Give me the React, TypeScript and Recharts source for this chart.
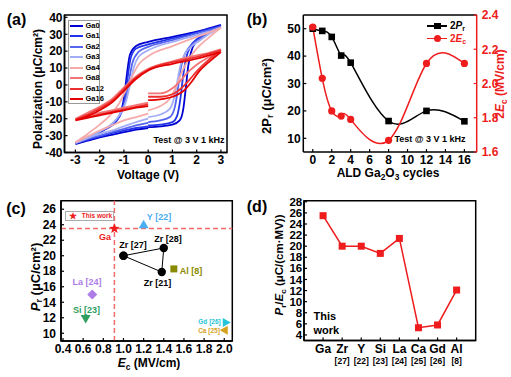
import React from 'react';
import { LineChart, Line, XAxis, YAxis, ComposedChart, ScatterChart, Scatter, ReferenceLine, ReferenceArea } from 'recharts';

const FONT = '"Liberation Sans", Arial, Helvetica, sans-serif';

// ---- (a) P-V loops: [rise 0 -> 3 V, fall 3 -> -3 V, return -3 -> 0 V], points are [V, P]
const loopNames = ['Ga0', 'Ga1', 'Ga2', 'Ga3', 'Ga4', 'Ga8', 'Ga12', 'Ga16'];
const loopColors = ['#0000d0', '#2233ea', '#5565f0', '#a3adf6', '#f6abab', '#f27474', '#ec3030', '#e40000'];

const ga0 = [
  [[0, -25], [0.5, -24.5], [1, -23.5], [1.3, -21], [1.45, -14], [1.55, -2], [1.65, 11], [1.78, 20], [2, 26], [2.5, 31.5], [3, 35.5]],
  [[3, 35.5], [2.5, 33.5], [2, 31.5], [1, 28.5], [0, 25.5], [-0.5, 23], [-0.75, 18], [-0.88, 6], [-0.98, -6], [-1.1, -15], [-1.3, -21], [-1.7, -25.5], [-2.2, -29.5], [-2.6, -32.5], [-3, -35]],
  [[-3, -35], [-2.5, -33], [-2, -31], [-1.5, -29.5], [-1, -28], [-0.5, -26.5], [0, -25.5]],
];
const ga1 = [
  [[0, -24], [0.5, -23.5], [1, -22], [1.2, -18], [1.33, -8], [1.43, 4], [1.55, 15], [1.75, 23], [2, 27], [2.5, 31.5], [3, 35]],
  [[3, 35], [2.5, 33], [2, 31], [1, 27.5], [0, 24], [-0.5, 21.5], [-0.72, 16], [-0.85, 4], [-0.95, -7], [-1.1, -16], [-1.35, -22], [-1.8, -26.5], [-2.3, -30], [-3, -34.5]],
  [[-3, -34.5], [-2.5, -32.5], [-2, -30.5], [-1.5, -28.5], [-1, -27], [-0.5, -25.5], [0, -24.5]],
];
const ga2 = [
  [[0, -22], [0.5, -21], [0.9, -19], [1.1, -13], [1.22, -3], [1.32, 8], [1.45, 16], [1.7, 22.5], [2, 26], [2.5, 30.5], [3, 34.5]],
  [[3, 34.5], [2.5, 32.5], [2, 30.5], [1, 26.5], [0, 22.5], [-0.4, 19.5], [-0.65, 13], [-0.8, 2], [-0.92, -8], [-1.1, -16], [-1.4, -22], [-1.9, -27], [-2.4, -30.5], [-3, -34.5]],
  [[-3, -34.5], [-2.5, -32], [-2, -30], [-1.5, -28], [-1, -26], [-0.5, -24], [0, -22.5]],
];
const ga3 = [
  [[0, -19], [0.5, -17.5], [0.9, -14], [1.08, -7], [1.2, 2], [1.32, 11], [1.5, 18], [1.8, 23], [2.2, 27], [2.6, 31], [3, 34]],
  [[3, 34], [2.5, 31.5], [2, 29.5], [1, 25.5], [0, 20.5], [-0.4, 16.5], [-0.6, 10], [-0.75, 0], [-0.9, -9], [-1.15, -17], [-1.5, -23], [-2, -27.5], [-2.5, -31], [-3, -34.5]],
  [[-3, -34.5], [-2.5, -31.5], [-2, -29], [-1.5, -27], [-1, -24.5], [-0.5, -22], [0, -20]],
];
const ga4 = [
  [[0, -15], [0.5, -12.5], [0.9, -8], [1.15, -1], [1.4, 8], [1.7, 16], [2, 21.5], [2.5, 28], [3, 34]],
  [[3, 34], [2.5, 31], [2, 28.5], [1, 23], [0, 17], [-0.4, 12], [-0.7, 4], [-0.95, -4], [-1.2, -11], [-1.6, -18.5], [-2, -23.5], [-2.5, -29], [-3, -34]],
  [[-3, -34], [-2.5, -30.5], [-2, -27], [-1.5, -24], [-1, -21], [-0.5, -19], [0, -17]],
];
const ga8 = [
  [[0, -5], [0.5, -5], [1, -2], [1.3, 2], [1.6, 7], [2, 12], [2.5, 16.5], [3, 21]],
  [[3, 21], [2.5, 19], [2, 17.5], [1, 14], [0, 9.5], [-0.5, 5], [-1, -1.5], [-1.5, -8.5], [-2, -13], [-2.5, -16.5], [-3, -20]],
  [[-3, -20], [-2.5, -18], [-2, -16.5], [-1.5, -15], [-1, -13.5], [-0.5, -12], [0, -10.5]],
];
const ga12 = [
  [[0, -7], [0.5, -7], [1, -5.5], [1.4, -1.5], [1.7, 3], [2, 8], [2.5, 15], [3, 20.5]],
  [[3, 20.5], [2.5, 18.5], [2, 16.5], [1, 13.5], [0, 9], [-0.5, 4.5], [-1, -2.5], [-1.5, -9.5], [-2, -14], [-2.5, -17.5], [-3, -20.5]],
  [[-3, -20.5], [-2.5, -19], [-2, -17.5], [-1.5, -16], [-1, -14.5], [-0.5, -13], [0, -11.5]],
];
const ga16 = [
  [[0, -9], [0.5, -8.5], [1, -7], [1.5, -3], [1.8, 2], [2.1, 8], [2.5, 13.5], [3, 19.5]],
  [[3, 19.5], [2.5, 17.5], [2, 15.5], [1, 12.5], [0, 8.5], [-0.5, 3.5], [-1, -3.5], [-1.5, -10.5], [-2, -15], [-2.5, -18.5], [-3, -21]],
  [[-3, -21], [-2.5, -19.5], [-2, -18], [-1.5, -16.5], [-1, -15], [-0.5, -13.5], [0, -12.5]],
];
const loops = [ga0, ga1, ga2, ga3, ga4, ga8, ga12, ga16];

// ---- (b) vs ALD cycles
const cycles = [0, 1, 2, 3, 4, 8, 12, 16];
const pr2 = [50, 49.2, 47, 40.2, 37.6, 16.3, 20, 16.2];
const ec2 = [2.33, 2.03, 1.84, 1.81, 1.79, 1.668, 2.117, 2.117];

// ---- (c) Pr vs Ec benchmark, [Ec, Pr]
const gaThisWork = [[0.91, 23.5]];
const yRef = [[1.2, 24]];
const zrRefs = [[1.0, 20], [1.4, 21], [1.38, 17.9], [1.0, 20]];
const alRef = [[1.5, 18.3]];
const laRef = [[0.69, 15]];
const siRef = [[0.625, 11.9]];
const gdRef = [[2.02, 11.4]];
const caRef = [[2.0, 10.4]];

// ---- (d) Pr/Ec ratio
const dopants = ['Ga', 'Zr', 'Y', 'Si', 'La', 'Ca', 'Gd', 'Al'];
const dopantRefs = ['', '[27]', '[22]', '[23]', '[24]', '[25]', '[26]', '[8]'];
const ratio = [25.5, 20, 20, 18.7, 21.4, 5.3, 5.8, 12.1];

const RED = '#ee1c1c';

function loopRows(branches: number[][][]) {
  const rows: { v: number; p: number | null }[] = [];
  branches.forEach((b) => {
    b.forEach(([v, p]) => rows.push({ v, p }));
    rows.push({ v: b[b.length - 1][0], p: null });
  });
  return rows;
}
const pts = (a: number[][]) => a.map(([x, y]) => ({ x, y }));

const bRows = cycles.map((c, i) => ({ c, pr: pr2[i], ec: ec2[i] }));
const dRows = dopants.map((d, i) => ({ i: i + 1, r: ratio[i] }));

const tick = { fill: '#000', fontSize: 12, fontWeight: 700, fontFamily: FONT };
const axLine = { stroke: '#000', strokeWidth: 1.5 };
const tLine = { stroke: '#000', strokeWidth: 1.2 };

function Txt({ x, y, size = 12, color = '#000', rotate = false, left = false, children }: any) {
  return (
    <div
      style={{
        position: 'absolute', left: x, top: y,
        transform: `translate(${left ? '0' : '-50%'},-50%)${rotate ? ' rotate(-90deg)' : ''}`,
        fontSize: size, fontWeight: 700, color, fontFamily: FONT, whiteSpace: 'nowrap', lineHeight: 1,
      }}
    >
      {children}
    </div>
  );
}
const Sub = ({ children }: any) => <sub style={{ fontSize: '0.7em', lineHeight: 0, verticalAlign: '-0.3em' }}>{children}</sub>;

const Box = ({ x, y, w, h, children }: any) => (
  <div style={{ position: 'absolute', left: x, top: y, width: w, height: h }}>{children}</div>
);

// marker shapes
const starPts = (cx: number, cy: number, ro: number, ri: number) => {
  const out: string[] = [];
  for (let k = 0; k < 10; k++) {
    const r = k % 2 === 0 ? ro : ri;
    const a = -Math.PI / 2 + (k * Math.PI) / 5;
    out.push(`${cx + r * Math.cos(a)},${cy + r * Math.sin(a)}`);
  }
  return out.join(' ');
};
const StarShape = (p: any) => <polygon points={starPts(p.cx, p.cy, 5.5, 2.3)} fill={RED} />;
const TriUp = (color: string) => (p: any) => <polygon points={`${p.cx},${p.cy - 5} ${p.cx - 5},${p.cy + 3.5} ${p.cx + 5},${p.cy + 3.5}`} fill={color} />;
const TriDown = (color: string) => (p: any) => <polygon points={`${p.cx},${p.cy + 5} ${p.cx - 5},${p.cy - 3.5} ${p.cx + 5},${p.cy - 3.5}`} fill={color} />;
const TriRight = (color: string) => (p: any) => <polygon points={`${p.cx + 4.5},${p.cy} ${p.cx - 3.5},${p.cy - 4.5} ${p.cx - 3.5},${p.cy + 4.5}`} fill={color} />;
const TriLeft = (color: string) => (p: any) => <polygon points={`${p.cx - 4.5},${p.cy} ${p.cx + 3.5},${p.cy - 4.5} ${p.cx + 3.5},${p.cy + 4.5}`} fill={color} />;
const SquareShape = (color: string, s: number) => (p: any) => <rect x={p.cx - s / 2} y={p.cy - s / 2} width={s} height={s} fill={color} />;
const DiamondShape = (color: string) => (p: any) => <polygon points={`${p.cx},${p.cy - 5} ${p.cx + 5},${p.cy} ${p.cx},${p.cy + 5} ${p.cx - 5},${p.cy}`} fill={color} />;
const CircleShape = (p: any) => <circle cx={p.cx} cy={p.cy} r={4.2} fill="#000" />;

const DopantTick = (p: any) => {
  const i = p.payload.value - 1;
  return (
    <g>
      <text x={p.x} y={p.y + 8.5} textAnchor="middle" fontSize={12} fontWeight={700} fontFamily={FONT} fill="#000">{dopants[i]}</text>
      <text x={p.x} y={p.y + 19.5} textAnchor="middle" fontSize={8.5} fontWeight={700} fontFamily={FONT} fill="#000">{dopantRefs[i]}</text>
    </g>
  );
};

function PanelA() {
  return (
    <Box x={0} y={0} w={250} h={185}>
      <LineChart width={250} height={185} margin={{ top: 15, right: 23, bottom: 12.5, left: 34.5 }}>
        <XAxis type="number" dataKey="v" domain={[-3.45, 3.25]} ticks={[-3, -2, -1, 0, 1, 2, 3]} allowDataOverflow interval={0}
          height={20} tickSize={-3} tickMargin={6} tick={tick} axisLine={axLine} tickLine={tLine} />
        <YAxis type="number" domain={[-40, 41.4]} ticks={[-40, -30, -20, -10, 0, 10, 20, 30, 40]} allowDataOverflow interval={0}
          width={30} tickSize={-3} tickMargin={5} tick={tick} axisLine={axLine} tickLine={tLine} />
        <ReferenceArea x1={-3.45} x2={3.25} y1={-40} y2={41.4} fill="none" stroke="#000" strokeWidth={1.5} fillOpacity={0} />
        {loops.map((l, i) => (
          <Line key={loopNames[i]} data={loopRows(l)} dataKey="p" type="monotone" stroke={loopColors[i]} strokeWidth={1.8}
            dot={false} activeDot={false} isAnimationActive={false} />
        ))}
      </LineChart>
    </Box>
  );
}

function PanelB() {
  return (
    <Box x={250} y={0} w={261} h={185}>
      <ComposedChart width={261} height={185} data={bRows} margin={{ top: 15, right: 4.3, bottom: 13, left: 23.3 }}>
        <XAxis type="number" dataKey="c" domain={[-1, 17.3]} ticks={[0, 2, 4, 6, 8, 10, 12, 14, 16]} allowDataOverflow interval={0}
          height={20} tickSize={-3} tickMargin={6} tick={tick} axisLine={axLine} tickLine={tLine} />
        <YAxis yAxisId="l" type="number" domain={[5, 55]} ticks={[10, 20, 30, 40, 50]} allowDataOverflow interval={0}
          width={30} tickSize={-3} tickMargin={5.6} tick={tick} axisLine={axLine} tickLine={tLine} />
        <YAxis yAxisId="r" orientation="right" type="number" domain={[1.6, 2.4]} ticks={[1.6, 1.8, 2.0, 2.2, 2.4]} allowDataOverflow interval={0}
          width={30} tickSize={-3} tickMargin={8} tick={{ ...tick, fill: RED }} tickFormatter={(v: number) => v.toFixed(1)}
          axisLine={{ stroke: RED, strokeWidth: 1.5 }} tickLine={{ stroke: RED, strokeWidth: 1.2 }} />
        <ReferenceLine yAxisId="l" y={55} stroke="#000" strokeWidth={1.5} />
        <Line yAxisId="l" dataKey="pr" type="natural" stroke="#000" strokeWidth={1.5} isAnimationActive={false} activeDot={false}
          dot={(p: any) => <rect key={`s${p.index}`} x={p.cx - 3.3} y={p.cy - 3.3} width={6.6} height={6.6} fill="#000" />} />
        <Line yAxisId="r" dataKey="ec" type="natural" stroke={RED} strokeWidth={1.5} isAnimationActive={false} activeDot={false}
          dot={{ r: 3.6, fill: RED, stroke: RED, strokeWidth: 0 }} />
      </ComposedChart>
    </Box>
  );
}

function PanelC() {
  return (
    <Box x={0} y={185} w={250} h={192}>
      <ScatterChart width={250} height={192} margin={{ top: 15.7, right: 17.7, bottom: 16, left: 31 }}>
        <XAxis type="number" dataKey="x" domain={[0.38, 2.08]} ticks={[0.4, 0.6, 0.8, 1.0, 1.2, 1.4, 1.6, 1.8, 2.0]} allowDataOverflow interval={0}
          height={20} tickSize={-3} tickMargin={6.8} tick={tick} tickFormatter={(v: number) => v.toFixed(1)} axisLine={axLine} tickLine={tLine} />
        <YAxis type="number" dataKey="y" domain={[9, 27.1]} ticks={[10, 12, 14, 16, 18, 20, 22, 24, 26]} allowDataOverflow interval={0}
          width={30} tickSize={-3} tickMargin={8} tick={tick} axisLine={axLine} tickLine={tLine} />
        <ReferenceArea x1={0.38} x2={2.08} y1={9} y2={27.1} fill="none" fillOpacity={0} stroke="#000" strokeWidth={1.5} />
        <ReferenceLine x={0.91} stroke="#f26a6a" strokeWidth={1.5} strokeDasharray="5 3" />
        <ReferenceLine y={23.5} stroke="#f26a6a" strokeWidth={1.5} strokeDasharray="5 3" />
        <Scatter data={pts(zrRefs)} shape={CircleShape} line={{ stroke: '#000', strokeWidth: 1 }} lineType="joint" isAnimationActive={false} />
        <Scatter data={pts(yRef)} shape={TriUp('#4aaef2')} isAnimationActive={false} />
        <Scatter data={pts(alRef)} shape={SquareShape('#8a8a00', 7)} isAnimationActive={false} />
        <Scatter data={pts(laRef)} shape={DiamondShape('#ad7ce6')} isAnimationActive={false} />
        <Scatter data={pts(siRef)} shape={TriDown('#2f9e5e')} isAnimationActive={false} />
        <Scatter data={pts(gdRef)} shape={TriRight('#22c4d6')} isAnimationActive={false} />
        <Scatter data={pts(caRef)} shape={TriLeft('#d6a21e')} isAnimationActive={false} />
        <Scatter data={pts(gaThisWork)} shape={StarShape} isAnimationActive={false} />
      </ScatterChart>
    </Box>
  );
}

function PanelD() {
  return (
    <Box x={250} y={185} w={261} h={192}>
      <LineChart width={261} height={192} data={dRows} margin={{ top: 15.7, right: 35.3, bottom: 6.5, left: 24 }}>
        <XAxis type="number" dataKey="i" domain={[0, 9]} ticks={[1, 2, 3, 4, 5, 6, 7, 8]} allowDataOverflow interval={0}
          height={30} tickSize={-3} tickMargin={7.3} tick={DopantTick} axisLine={axLine} tickLine={tLine} />
        <YAxis type="number" domain={[3, 28.2]} ticks={[4, 6, 8, 10, 12, 14, 16, 18, 20, 22, 24, 26, 28]} allowDataOverflow interval={0}
          width={30} tickSize={-3} tickMargin={4.8} tick={{ ...tick, fontSize: 11.5 }} axisLine={axLine} tickLine={tLine} />
        <ReferenceArea x1={0} x2={9} y1={3} y2={28.2} fill="none" fillOpacity={0} stroke="#000" strokeWidth={1.5} />
        <Line dataKey="r" type="linear" stroke={RED} strokeWidth={1.5} isAnimationActive={false} activeDot={false}
          dot={(p: any) => <rect key={`d${p.index}`} x={p.cx - 3.5} y={p.cy - 3.5} width={7} height={7} fill={RED} />} />
      </LineChart>
    </Box>
  );
}

export default function App() {
  return (
    <div style={{ position: 'absolute', left: 0, top: 0, width: 511, height: 377, background: '#fff', overflow: 'hidden', fontFamily: FONT }}>
      <PanelA />
      <PanelB />
      <PanelC />
      <PanelD />

      {/* panel letters */}
      <Txt x={16.5} y={20} size={16}>(a)</Txt>
      <Txt x={257} y={20} size={16}>(b)</Txt>
      <Txt x={16} y={209} size={16}>(c)</Txt>
      <Txt x={257} y={207} size={16}>(d)</Txt>

      {/* (a) */}
      <Txt x={38} y={89} rotate>Polarization (μC/cm²)</Txt>
      <Txt x={148} y={174.5} >Voltage (V)</Txt>
      <Txt x={189} y={140} size={9}>Test @ 3 V 1 kHz</Txt>
      <div style={{ position: 'absolute', left: 67.5, top: 20, width: 32, height: 84, border: '1px solid #999', boxSizing: 'border-box', background: '#fff' }} />
      {loopNames.map((n, i) => (
        <React.Fragment key={n}>
          <div style={{ position: 'absolute', left: 69.5, top: 24.8 + i * 10.5, width: 13, height: 2, background: loopColors[i] }} />
          <Txt x={85.5} y={25.8 + i * 10.5} size={7.5} left>{n}</Txt>
        </React.Fragment>
      ))}

      {/* (b) */}
      <Txt x={266} y={96} size={13} rotate>2P<Sub>r</Sub> (μC/cm²)</Txt>
      <Txt x={500} y={84} rotate color={RED}>2<i>E</i><Sub>c</Sub> (MV/cm)</Txt>
      <Txt x={388} y={173}>ALD Ga<Sub>2</Sub>O<Sub>3</Sub> cycles</Txt>
      <Txt x={430} y={138.5} size={9}>Test @ 3 V 1 kHz</Txt>
      <div style={{ position: 'absolute', left: 427, top: 25, width: 20, height: 1.6, background: '#000' }} />
      <div style={{ position: 'absolute', left: 434, top: 22.5, width: 6.5, height: 6.5, background: '#000' }} />
      <Txt x={450} y={26} size={10} left>2<i>P</i><Sub>r</Sub></Txt>
      <div style={{ position: 'absolute', left: 427, top: 37.7, width: 20, height: 1.6, background: RED }} />
      <div style={{ position: 'absolute', left: 433.5, top: 35, width: 7, height: 7, borderRadius: '50%', background: RED }} />
      <Txt x={450} y={38.5} size={10} color={RED} left>2<i>E</i><Sub>c</Sub></Txt>

      {/* (c) */}
      <Txt x={35} y={277} size={13} rotate><i>P</i><Sub>r</Sub> (μC/cm²)</Txt>
      <Txt x={149} y={363}><i>E</i><Sub>c</Sub> (MV/cm)</Txt>
      <div style={{ position: 'absolute', left: 64.5, top: 211, width: 49, height: 10, border: '1px solid #aaa', boxSizing: 'border-box', background: '#fff' }} />
      <Txt x={72.5} y={216} size={9} color={RED}>★</Txt>
      <Txt x={97} y={216} size={6.5} color={RED}>This work</Txt>
      <Txt x={159} y={216.5} size={9} color="#4aaef2">Y [22]</Txt>
      <Txt x={105} y={237} size={9} color={RED}>Ga</Txt>
      <Txt x={133} y={245} size={9}>Zr [27]</Txt>
      <Txt x={168} y={238.5} size={9}>Zr [28]</Txt>
      <Txt x={157.5} y={282.5} size={9}>Zr [21]</Txt>
      <Txt x={191} y={270.5} size={9} color="#8a8a00">Al [8]</Txt>
      <Txt x={87} y={282} size={9} color="#ad7ce6">La [24]</Txt>
      <Txt x={86.5} y={310} size={9} color="#2f9e5e">Si [23]</Txt>
      <Txt x={209.5} y={321.7} size={6.5} color="#22c4d6">Gd [26]</Txt>
      <Txt x={209} y={331} size={6.5} color="#d6a21e">Ca [25]</Txt>

      {/* (d) */}
      <Txt x={280} y={265} size={11.5} rotate><i>P</i><Sub>r</Sub>/<i>E</i><Sub>c</Sub> (μC/(cm·MV))</Txt>
      <Txt x={313.5} y={316} size={11} left>This</Txt>
      <Txt x={313.5} y={329.5} size={11} left>work</Txt>
    </div>
  );
}
